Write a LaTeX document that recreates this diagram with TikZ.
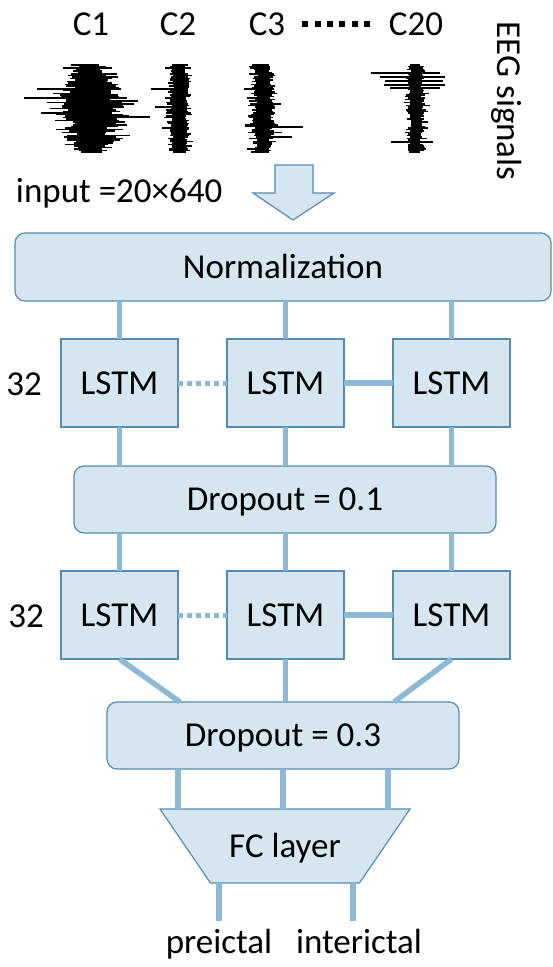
\documentclass[tikz,border=0pt]{standalone}
\usepackage{fontspec}
\setmainfont{Carlito}
\usetikzlibrary{calc}
\definecolor{boxfill}{RGB}{214,230,241}
\definecolor{boxdraw}{RGB}{84,140,180}
\definecolor{conn}{RGB}{140,186,214}
\newcommand\eegblob[7]{%
  \pgfmathsetseed{#7}%
  \pgfmathtruncatemacro\nrows{(#3-#2)/1.5}%
  \foreach \k in {0,...,\nrows}{%
    \pgfmathsetmacro\yy{#2+\k*1.5}%
    \pgfmathsetmacro\myT{\k/\nrows}%
    \pgfmathsetmacro\myEnv{#5+(#4-#5)*sin(180*\myT)}%
    \pgfmathsetmacro\myL{\myEnv*(0.6+0.7*rnd)+#6*rnd*rnd*rnd}%
    \pgfmathsetmacro\myR{\myEnv*(0.6+0.7*rnd)+#6*rnd*rnd*rnd}%
    \draw[sig] (#1-\myL,\yy) -- (#1+\myR,\yy);
  }%
}
\begin{document}
\begin{tikzpicture}[x=1pt,y=-1pt,
  font=\fontsize{35}{42}\selectfont,
  every node/.style={inner sep=0pt, outer sep=0pt, text height=22.5pt, text depth=0pt},
  rbox/.style={draw=boxdraw, fill=boxfill, line width=1.2pt, rounded corners=10pt},
  lbox/.style={draw=boxdraw, fill=boxfill, line width=1.2pt, minimum width=117pt, minimum height=88pt},
  link/.style={draw=conn, line width=5.5pt},
  dotlink/.style={draw=conn, line width=5pt, dash pattern=on 5pt off 4pt},
  sig/.style={draw=black, line width=1.6pt},
  lbl/.style={anchor=base}]
\useasboundingbox (0,0) rectangle (552,967);

% channel labels
\node[lbl] (c1) at (91,35) {C1};
\node[lbl] (c2) at (178,35) {C2};
\node[lbl] (c3) at (267,35) {C3};
\node[lbl] (c20) at (416,35) {C20};
\draw[line width=6pt, dash pattern=on 6pt off 6.4pt, shorten <=17pt, shorten >=19pt] (c3.east) -- (c20.west);
\node[anchor=base, rotate=-90] (eeg) at (497,101) {EEG signals};

% EEG signals
\eegblob{91}{65}{153}{28}{11}{38}{11}
\eegblob{179}{65}{153}{9}{6}{16}{23}
\eegblob{263}{65}{153}{10}{6}{17}{37}
\eegblob{416}{65}{153}{7}{6}{9}{51}
\draw[sig] (24,98) -- (91,98);
\draw[sig] (91,117) -- (150,117);
\draw[sig] (151,89) -- (179,89);
\draw[sig] (155,107) -- (179,107);
\draw[sig] (262,127) -- (303,127);
\draw[sig] (262,137) -- (292,137);
\draw[sig] (371,73) -- (440,73);
\draw[sig] (380,77) -- (445,77);
\draw[sig] (385,81) -- (443,81);
\draw[sig] (384,85) -- (445,85);
\draw[sig] (390,88) -- (440,88);
\draw[sig] (391,142) -- (433,142);

% input
\node[anchor=base west] (inp) at (16,202) {input =20×640};
\draw[draw=boxdraw, fill=boxfill, line width=1.2pt, line join=miter]
  (275,165) -- (313,165) -- (313,193) -- (334,193) -- (293,220) -- (253,193) -- (275,193) -- cycle;

% boxes
\node[rbox, minimum width=536pt, minimum height=68pt] (norm) at (283,267) {Normalization};
\node[lbox] (a1) at (119.5,383) {LSTM};
\node[lbox] (a2) at (285.5,383) {LSTM};
\node[lbox] (a3) at (451.5,383) {LSTM};
\node[lbl] (n32a) at (24,395) {32};
\node[rbox, minimum width=422pt, minimum height=67pt] (d1) at (285,499.5) {Dropout = 0.1};
\node[lbox] (b1) at (119.5,615) {LSTM};
\node[lbox] (b2) at (285.5,615) {LSTM};
\node[lbox] (b3) at (451.5,615) {LSTM};
\node[lbl] (n32b) at (26,627) {32};
\node[rbox, minimum width=352pt, minimum height=67pt] (d3) at (283,735.5) {Dropout = 0.3};
\node[minimum width=250pt, minimum height=74pt] (fc) at (285,846) {};
\draw[draw=boxdraw, fill=boxfill, line width=1.2pt]
  (fc.north west) -- (fc.north east) -- ([xshift=-50.5pt]fc.south east) -- ([xshift=50.5pt]fc.south west) -- cycle;
\node (fct) at (fc.center) {FC layer};

% outputs
\node[lbl] (pre) at (219,953) {preictal};
\node[lbl] (inter) at (359,953) {interictal};
\coordinate (o1) at (219,921);
\coordinate (o2) at (353,921);

% connectors
\foreach \n in {a1,a2,a3}{
  \draw[link] (\n.north |- norm.south) -- (\n.north);
  \draw[link] (\n.south) -- (\n.south |- d1.north);
}
\foreach \n in {b1,b2,b3}{
  \draw[link] (\n.north |- d1.south) -- (\n.north);
}
\draw[dotlink] (a1.east) -- (a2.west);
\draw[link] (a2.east) -- (a3.west);
\draw[dotlink] (b1.east) -- (b2.west);
\draw[link] (b2.east) -- (b3.west);
\draw[link] (b1.south) -- ([xshift=-103pt]d3.north);
\draw[link] (b2.south) -- (b2.south |- d3.north);
\draw[link] (b3.south) -- ([xshift=111pt]d3.north);
\foreach \dx in {-105,0,105}{
  \draw[link] ([xshift=\dx pt]d3.south) -- ([xshift=\dx pt]d3.south |- fc.north);
}
\draw[link] (o1 |- fc.south) -- (o1);
\draw[link] (o2 |- fc.south) -- (o2);
\end{tikzpicture}
\end{document}
